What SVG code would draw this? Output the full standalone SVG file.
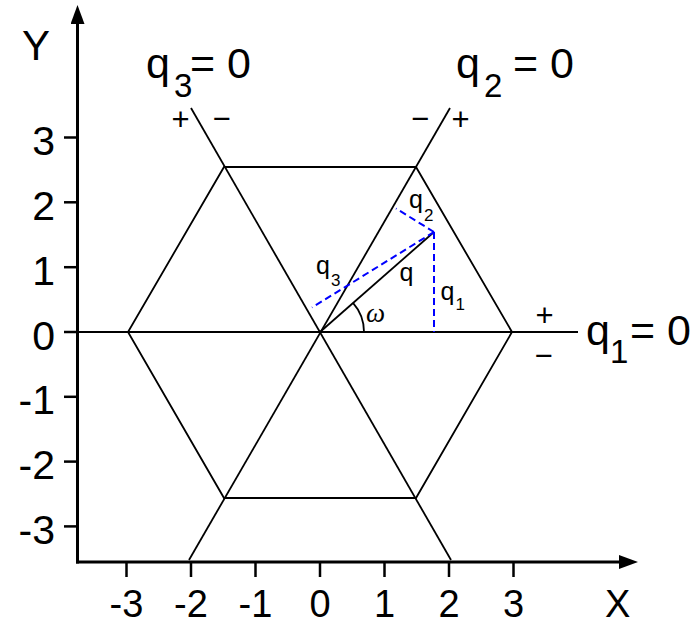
<svg xmlns="http://www.w3.org/2000/svg" width="700" height="625" viewBox="0 0 700 625">
<defs>
<style>
text{font-family:"Liberation Sans",Arial,sans-serif;fill:#000}
.axis{stroke:#000;stroke-width:3;fill:none}
.tick{stroke:#000;stroke-width:2.5}
.ln{stroke:#000;stroke-width:1.8;fill:none}
.dash{stroke:#0000ff;stroke-width:2;stroke-dasharray:7 4;fill:none}
.tl{font-size:41px}
.tb{font-size:38px;text-anchor:middle}
.big{font-size:43px}
.bsub{font-size:33px}
.sm{font-size:25px}
.ssub{font-size:17px}
.pm{font-size:31px;text-anchor:middle}
</style>
<marker id="arr" viewBox="0 0 19 14" refX="0" refY="7" markerWidth="19" markerHeight="14" markerUnits="userSpaceOnUse" orient="auto">
<path d="M0,0 L19,7 L0,14 Z" fill="#000"/>
</marker>
</defs>
<rect width="700" height="625" fill="#fff"/>

<g id="axes">
<line class="axis" x1="77.5" y1="563.5" x2="77.5" y2="24" marker-end="url(#arr)"/>
<line class="axis" x1="76" y1="562" x2="619" y2="562" marker-end="url(#arr)"/>
<g id="yticks">
<line class="tick" x1="64" y1="137.5" x2="77" y2="137.5"/>
<line class="tick" x1="64" y1="202.3" x2="77" y2="202.3"/>
<line class="tick" x1="64" y1="267.2" x2="77" y2="267.2"/>
<line class="tick" x1="64" y1="332" x2="77" y2="332"/>
<line class="tick" x1="64" y1="396.8" x2="77" y2="396.8"/>
<line class="tick" x1="64" y1="461.6" x2="77" y2="461.6"/>
<line class="tick" x1="64" y1="526.4" x2="77" y2="526.4"/>
</g>
<g id="xticks">
<line class="tick" x1="126.5" y1="563" x2="126.5" y2="577"/>
<line class="tick" x1="191" y1="563" x2="191" y2="577"/>
<line class="tick" x1="255.5" y1="563" x2="255.5" y2="577"/>
<line class="tick" x1="320" y1="563" x2="320" y2="577"/>
<line class="tick" x1="384.5" y1="563" x2="384.5" y2="577"/>
<line class="tick" x1="449" y1="563" x2="449" y2="577"/>
<line class="tick" x1="513.5" y1="563" x2="513.5" y2="577"/>
</g>
<g id="ylabels" text-anchor="end">
<text class="tl" x="55" y="155">3</text>
<text class="tl" x="55" y="220">2</text>
<text class="tl" x="55" y="284.5">1</text>
<text class="tl" x="55" y="349.5">0</text>
<text class="tl" x="55" y="414">-1</text>
<text class="tl" x="55" y="479">-2</text>
<text class="tl" x="55" y="543.5">-3</text>
</g>
<g id="xlabels">
<text class="tb" x="126.5" y="617">-3</text>
<text class="tb" x="191" y="617">-2</text>
<text class="tb" x="255.5" y="617">-1</text>
<text class="tb" x="320" y="617">0</text>
<text class="tb" x="384.5" y="617">1</text>
<text class="tb" x="449" y="617">2</text>
<text class="tb" x="513.5" y="617">3</text>
</g>
<text x="22" y="60" style="font-size:42px">Y</text>
<text x="605" y="617" style="font-size:38px">X</text>
</g>

<g id="hexagon">
<polygon class="ln" points="512,332 416,167 224,167 128,332 224,498 416,498"/>
</g>

<g id="connectors">
<line id="q1-line" class="ln" x1="78" y1="332" x2="578" y2="332"/>
<line id="q2-line" class="ln" x1="189" y1="560" x2="450" y2="108"/>
<line id="q3-line" class="ln" x1="451" y1="560" x2="191" y2="108"/>
<line id="q-vector" class="ln" x1="320" y1="332" x2="434" y2="232"/>
<path id="omega-arc" class="ln" d="M364,332 A44,44 0 0 0 353,302.8"/>
<line class="dash" x1="434" y1="232" x2="434" y2="332"/>
<line class="dash" x1="434" y1="232" x2="396" y2="208.5"/>
<line class="dash" x1="434" y1="232" x2="312" y2="307.5"/>
</g>

<g id="line-labels">
<text class="big" x="146" y="78">q<tspan class="bsub" x="174" y="97">3</tspan><tspan x="190" y="78">=</tspan><tspan x="227" y="78">0</tspan></text>
<text class="big" x="456" y="78">q<tspan class="bsub" x="484" y="97">2</tspan><tspan x="513" y="78">=</tspan><tspan x="550" y="78">0</tspan></text>
<text class="big" x="586" y="345">q<tspan class="bsub" x="610" y="363">1</tspan><tspan x="630" y="345">=</tspan><tspan x="667" y="345">0</tspan></text>
</g>

<g id="signs">
<text class="pm" x="180.5" y="130">+</text>
<text class="pm" x="221.5" y="129">−</text>
<text class="pm" x="420" y="129">−</text>
<text class="pm" x="460.5" y="130">+</text>
<text class="pm" x="544.5" y="325.5">+</text>
<text class="pm" x="543.5" y="366">−</text>
</g>

<g id="vector-labels">
<text class="sm" x="409" y="208">q<tspan class="ssub" x="424" y="221">2</tspan></text>
<text class="sm" x="316" y="274">q<tspan class="ssub" x="331" y="286">3</tspan></text>
<text class="sm" x="399.5" y="281">q</text>
<text class="sm" x="440.5" y="300">q<tspan class="ssub" x="455.5" y="310">1</tspan></text>
<text x="366" y="322" style="font-family:'Liberation Serif','Times New Roman',serif;font-style:italic;font-size:27px">ω</text>
</g>
</svg>
